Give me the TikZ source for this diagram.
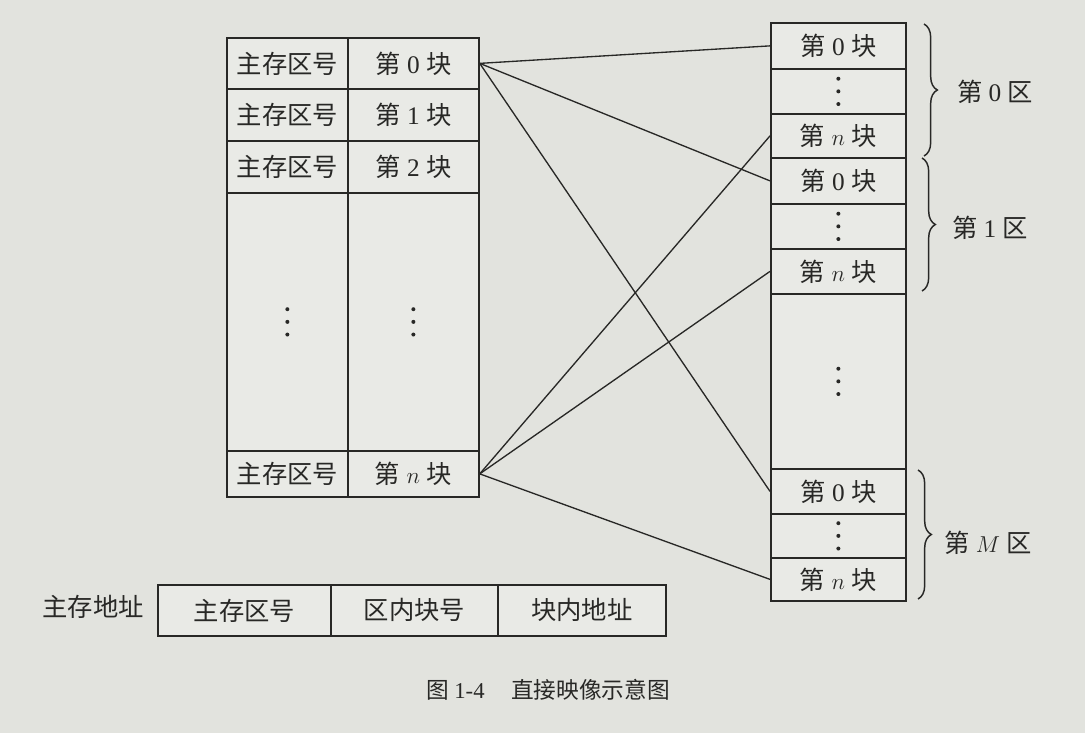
\documentclass[tikz,border=0pt]{standalone}
\usepackage{fontspec}
\setmainfont{Liberation Serif}
\newfontfamily\cjk{Noto Sans CJK SC}
\usetikzlibrary{decorations.pathreplacing}
\definecolor{bgc}{RGB}{226,227,222}
\definecolor{ink}{RGB}{40,40,38}
\definecolor{boxc}{RGB}{233,234,230}
\newcommand\myblk[1]{{\cjk 第}\ #1\ {\cjk 块}}
\newcommand\myzone[1]{{\cjk 第}\ #1\ {\cjk 区}}
\begin{document}
\begin{tikzpicture}[x=0.75pt,y=-0.75pt,line width=1.3pt,
  every node/.style={text=ink,font=\fontsize{19}{21}\selectfont},
  cell/.style 2 args={draw=ink,fill=boxc,minimum width=#1*0.75pt,minimum height=#2*0.75pt,inner sep=0pt,anchor=north west},
  vd/.style={path picture={\foreach \k in {-1,0,1} \fill[ink] ([yshift=\k*9.5pt]path picture bounding box.center) circle (1.5pt);}},
  link/.style={draw=ink,line width=1pt},
  zbrace/.style={draw=ink,line width=1.1pt,decorate,decoration={brace,amplitude=10pt}}]
\fill[bgc] (0,0) rectangle (1085,733);
\useasboundingbox (0,0) rectangle (1085,733);
% left table
\node[cell={121}{51}] (a0) at (226,37) {\cjk 主存区号};
\node[cell={131}{51}] (b0) at (347,37) {\myblk{0}};
\node[cell={121}{52}] (a1) at (226,88) {\cjk 主存区号};
\node[cell={131}{52}] (b1) at (347,88) {\myblk{1}};
\node[cell={121}{52}] (a2) at (226,140) {\cjk 主存区号};
\node[cell={131}{52}] (b2) at (347,140) {\myblk{2}};
\node[cell={121}{258},vd] (a3) at (226,192) {};
\node[cell={131}{258},vd] (b3) at (347,192) {};
\node[cell={121}{46}] (a4) at (226,450) {\cjk 主存区号};
\node[cell={131}{46}] (b4) at (347,450) {\myblk{$n$}};
% right column
\node[cell={135}{46}] (r00) at (770,22) {\myblk{0}};
\node[cell={135}{45},vd] (r01) at (770,68) {};
\node[cell={135}{44}] (r02) at (770,113) {\myblk{$n$}};
\node[cell={135}{46}] (r10) at (770,157) {\myblk{0}};
\node[cell={135}{45},vd] (r11) at (770,203) {};
\node[cell={135}{45}] (r12) at (770,248) {\myblk{$n$}};
\node[cell={135}{175},vd] (rb) at (770,293) {};
\node[cell={135}{45}] (rM0) at (770,468) {\myblk{0}};
\node[cell={135}{44},vd] (rM1) at (770,513) {};
\node[cell={135}{43}] (rM2) at (770,557) {\myblk{$n$}};
% braces
\coordinate (z0t) at (924,24); \coordinate (z0b) at (924,156);
\coordinate (z1t) at (922,158); \coordinate (z1b) at (922,291);
\coordinate (zMt) at (918,470); \coordinate (zMb) at (918,599);
\draw[zbrace] (z0t) -- (z0b);
\draw[zbrace] (z1t) -- (z1b);
\draw[zbrace] (zMt) -- (zMb);
\node (l0) at (995,92) {\myzone{0}};
\node (l1) at (990,228) {\myzone{1}};
\node (lM) at (988,543) {\myzone{$M$}};
% connectors
\draw[link] (b0.east) -- (r00.west);
\draw[link] (b0.east) -- (r10.west);
\draw[link] (b0.east) -- (rM0.west);
\draw[link] (b4.east) -- (r02.west);
\draw[link] (b4.east) -- (r12.west);
\draw[link] (b4.east) -- (rM2.west);
% address
\node (addr) at (93,607) {\cjk 主存地址};
\node[cell={173}{51}] (d0) at (157,584) {\cjk 主存区号};
\node[cell={167}{51}] (d1) at (330,584) {\cjk 区内块号};
\node[cell={168}{51}] (d2) at (497,584) {\cjk 块内地址};
% caption
\node[font=\fontsize{17}{19}\selectfont] (cap) at (548,690) {{\cjk 图}\ 1-4\hspace{20pt}{\cjk 直接映像示意图}};
\end{tikzpicture}
\end{document}
